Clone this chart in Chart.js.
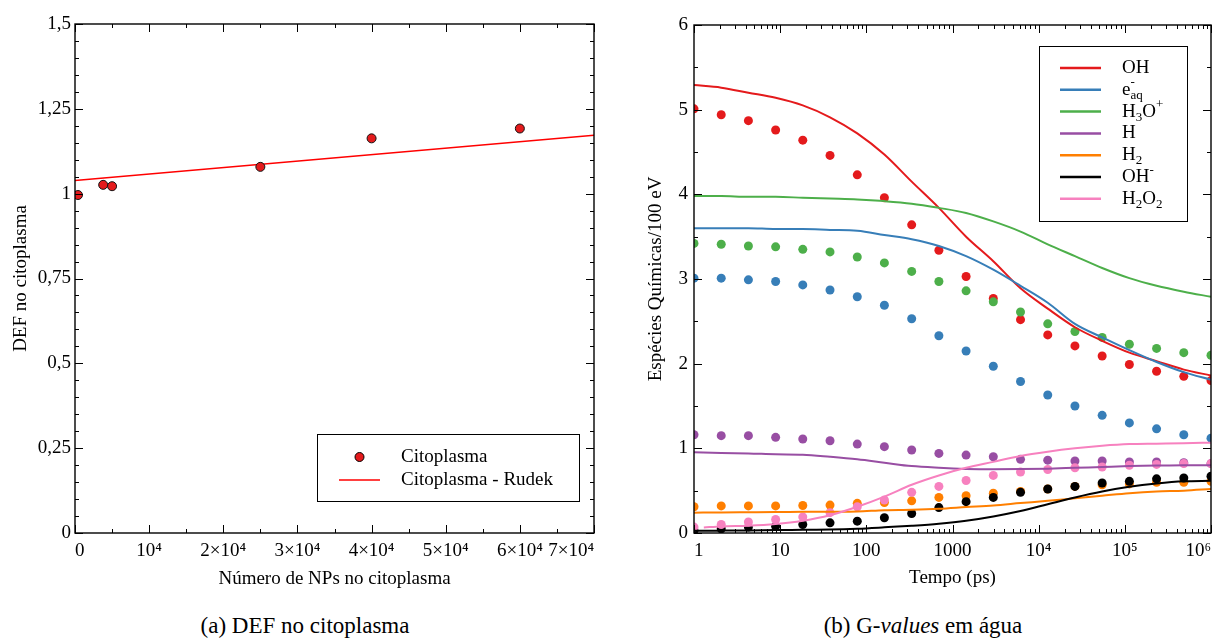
<!DOCTYPE html>
<html lang="pt">
<head>
<meta charset="utf-8">
<title>DEF no citoplasma / G-values em água</title>
<script src="https://cdn.jsdelivr.net/npm/chart.js@4.4.1/dist/chart.umd.min.js"></script>
<style>
  html, body { margin: 0; padding: 0; background: #fff; }
  body { width: 1219px; height: 639px; position: relative; overflow: hidden;
         font-family: 'Liberation Serif', 'DejaVu Serif', serif; color: #000; }
  .panel { position: absolute; top: 0; height: 600px; }
  #panel-a { left: 0; width: 610px; }
  #panel-b { left: 610px; width: 609px; }
  .caption { position: absolute; top: 612px; font-size: 23px; line-height: 28px;
             white-space: nowrap; transform: translateX(-50%); }
</style>
</head>
<body>
<div class="panel" id="panel-a"><canvas id="defChart" width="610" height="600"></canvas></div>
<div class="panel" id="panel-b"><canvas id="gChart" width="609" height="600"></canvas></div>
<div class="caption" style="left:305px">(a) DEF no citoplasma</div>
<div class="caption" style="left:923px">(b) G-<i>values</i> em água</div>

<script>
// ── (a) DEF vs number of NPs ──────────────────────────────────
const npCount   = [400, 3800, 5000, 25000, 40000, 60000];
const defValues = [0.996, 1.026, 1.022, 1.079, 1.163, 1.192];
const rudekX    = [0, 70000];
const rudekY    = [1.039, 1.172];
const defYTickLabels = ['0', '0,25', '0,5', '0,75', '1', '1,25', '1,5'];
const npXTickLabels  = ['0', '10⁴', '2×10⁴', '3×10⁴', '4×10⁴', '5×10⁴', '6×10⁴', '7×10⁴'];

// ── (b) G-values in water ─────────────────────────────────────
const tempoDots = [1, 2.07, 4.28, 8.86, 18.3, 37.9, 78.5, 162, 336, 695,
                   1438, 2976, 6158, 12743, 26367, 54556, 112884, 233572, 483293, 1000000];
const ohDots   = [5.01, 4.94, 4.87, 4.76, 4.64, 4.46, 4.23, 3.96, 3.64, 3.34, 3.03, 2.77, 2.52, 2.34, 2.21, 2.09, 1.99, 1.91, 1.85, 1.80];
const eaqDots  = [3.01, 3.01, 2.99, 2.97, 2.93, 2.87, 2.79, 2.69, 2.53, 2.33, 2.15, 1.97, 1.79, 1.63, 1.50, 1.39, 1.30, 1.23, 1.16, 1.12];
const h3oDots  = [3.42, 3.41, 3.39, 3.38, 3.35, 3.32, 3.26, 3.19, 3.09, 2.97, 2.86, 2.73, 2.61, 2.47, 2.38, 2.31, 2.23, 2.18, 2.13, 2.10];
const hDots    = [1.16, 1.15, 1.15, 1.13, 1.11, 1.09, 1.05, 1.02, 0.98, 0.94, 0.92, 0.90, 0.87, 0.86, 0.85, 0.85, 0.84, 0.84, 0.83, 0.82];
const h2Dots   = [0.31, 0.32, 0.32, 0.32, 0.325, 0.33, 0.35, 0.36, 0.38, 0.42, 0.44, 0.47, 0.49, 0.52, 0.55, 0.57, 0.58, 0.60, 0.60, 0.61];
const ohmDots  = [0.03, 0.05, 0.07, 0.08, 0.10, 0.12, 0.14, 0.18, 0.23, 0.30, 0.37, 0.42, 0.48, 0.52, 0.55, 0.59, 0.61, 0.64, 0.65, 0.67];
const h2o2Dots = [0.07, 0.10, 0.13, 0.16, 0.19, 0.24, 0.31, 0.39, 0.48, 0.55, 0.62, 0.68, 0.72, 0.75, 0.77, 0.78, 0.80, 0.81, 0.82, 0.82];

const tempoLine = [1, 2.07, 4.28, 8.86, 18.3, 37.9, 78.5, 162, 336, 695,
                   1438, 2976, 6158, 12743, 26367, 54556, 112884, 233572, 483293, 1000000];
const h2o2LineStart = 1.3;
const ohLine   = [5.29, 5.26, 5.20, 5.14, 5.05, 4.91, 4.72, 4.47, 4.15, 3.84, 3.50, 3.21, 2.89, 2.65, 2.43, 2.27, 2.13, 2.03, 1.93, 1.86];
const eaqLine  = [3.60, 3.60, 3.60, 3.59, 3.59, 3.58, 3.57, 3.52, 3.47, 3.39, 3.27, 3.11, 2.92, 2.72, 2.47, 2.31, 2.16, 2.02, 1.90, 1.81];
const h3oLine  = [3.98, 3.98, 3.97, 3.97, 3.96, 3.95, 3.94, 3.92, 3.89, 3.84, 3.78, 3.68, 3.56, 3.41, 3.27, 3.13, 3.01, 2.92, 2.85, 2.79];
const hLine    = [0.955, 0.945, 0.94, 0.93, 0.925, 0.90, 0.87, 0.83, 0.79, 0.77, 0.757, 0.753, 0.755, 0.76, 0.77, 0.78, 0.79, 0.796, 0.80, 0.80];
const h2Line   = [0.24, 0.243, 0.245, 0.247, 0.25, 0.252, 0.255, 0.27, 0.275, 0.286, 0.306, 0.325, 0.353, 0.38, 0.41, 0.44, 0.47, 0.49, 0.50, 0.52];
const ohmLine  = [0.027, 0.028, 0.03, 0.035, 0.037, 0.04, 0.05, 0.067, 0.086, 0.11, 0.145, 0.196, 0.26, 0.34, 0.42, 0.49, 0.545, 0.584, 0.61, 0.616];
const h2o2Line = [0.065, 0.078, 0.086, 0.106, 0.145, 0.21, 0.31, 0.43, 0.57, 0.68, 0.77, 0.84, 0.91, 0.96, 1.00, 1.03, 1.05, 1.055, 1.06, 1.067];

const speciesNames  = ['OH', 'e^{-}_{aq}', 'H_{3}O^{+}', 'H', 'H_{2}', 'OH^{-}', 'H_{2}O_{2}'];
const speciesColors = ['#e41a1c', '#377eb8', '#4daf4a', '#984ea3', '#ff7f00', '#000000', '#f781bf'];
const tempoTicks      = [1, 10, 100, 1000, 1e4, 1e5, 1e6];
const tempoTickLabels = ['1', '10', '100', '1000', '10⁴', '10⁵', '10⁶'];

const FONT = "'Liberation Serif', 'DejaVu Serif', serif";
Chart.defaults.font.family = FONT;
Chart.defaults.font.size = 19;
Chart.defaults.color = '#000';

// text with ^{sup} and _{sub}; a sup directly followed by a sub is stacked
function parseRich(s) {
  const out = [];
  const re = /([\^_])\{([^}]*)\}|([^\^_]+)/g;
  let m;
  while ((m = re.exec(s))) {
    if (m[3]) out.push({ t: m[3], k: 'n' });
    else out.push({ t: m[2], k: m[1] === '^' ? 'sup' : 'sub' });
  }
  return out;
}

function drawRich(ctx, s, x, y, size) {
  const segs = parseRich(s);
  const small = Math.round(size * 0.66);
  ctx.textBaseline = 'middle';
  ctx.textAlign = 'left';
  ctx.fillStyle = '#000';
  for (let i = 0; i < segs.length; i++) {
    const sg = segs[i];
    if (sg.k === 'n') {
      ctx.font = size + 'px ' + FONT;
      ctx.fillText(sg.t, x, y);
      x += ctx.measureText(sg.t).width;
      continue;
    }
    ctx.font = small + 'px ' + FONT;
    const supDy = -size * 0.36, subDy = size * 0.3;
    ctx.fillText(sg.t, x, y + (sg.k === 'sup' ? supDy : subDy));
    let w = ctx.measureText(sg.t).width;
    const nx = segs[i + 1];
    if (sg.k === 'sup' && nx && nx.k === 'sub') {
      ctx.fillText(nx.t, x, y + subDy);
      w = Math.max(w, ctx.measureText(nx.t).width);
      i++;
    }
    x += w;
  }
}

// closed frame with inward major/minor ticks on all four sides
const frameTicks = {
  id: 'frameTicks',
  afterDatasetsDraw(chart, args, opts) {
    const { ctx, chartArea: a, scales: { x, y } } = chart;
    const major = 8, minor = 4;
    ctx.save();
    ctx.strokeStyle = '#000';
    ctx.lineWidth = 1;
    ctx.beginPath();
    const tx = (v, len) => {
      const p = Math.round(x.getPixelForValue(v)) + 0.5;
      ctx.moveTo(p, a.bottom); ctx.lineTo(p, a.bottom - len);
      ctx.moveTo(p, a.top);    ctx.lineTo(p, a.top + len);
    };
    const ty = (v, len) => {
      const p = Math.round(y.getPixelForValue(v)) + 0.5;
      ctx.moveTo(a.left, p);  ctx.lineTo(a.left + len, p);
      ctx.moveTo(a.right, p); ctx.lineTo(a.right - len, p);
    };
    x.ticks.forEach(t => tx(t.value, major));
    opts.xMinor.forEach(v => tx(v, minor));
    y.ticks.forEach(t => ty(t.value, major));
    opts.yMinor.forEach(v => ty(v, minor));
    ctx.stroke();
    ctx.lineWidth = 1.4;
    ctx.strokeRect(a.left, a.top, a.right - a.left, a.bottom - a.top);
    ctx.restore();
  }
};

// boxed legend drawn inside the plot
const boxLegend = {
  id: 'boxLegend',
  afterDraw(chart, args, o) {
    const ctx = chart.ctx;
    ctx.save();
    ctx.fillStyle = '#fff';
    ctx.fillRect(o.left, o.top, o.width, o.height);
    ctx.strokeStyle = '#000';
    ctx.lineWidth = 1;
    ctx.strokeRect(o.left + 0.5, o.top + 0.5, o.width, o.height);
    o.items.forEach((it, i) => {
      const yy = o.firstRow + i * o.rowGap;
      if (it.kind === 'point') {
        ctx.beginPath();
        ctx.arc((o.sampleFrom + o.sampleTo) / 2, yy, 4.5, 0, Math.PI * 2);
        ctx.fillStyle = it.color;
        ctx.fill();
        ctx.strokeStyle = '#000';
        ctx.lineWidth = 1;
        ctx.stroke();
      } else {
        ctx.beginPath();
        ctx.moveTo(o.sampleFrom, yy);
        ctx.lineTo(o.sampleTo, yy);
        ctx.strokeStyle = it.color;
        ctx.lineWidth = it.width || 2.5;
        ctx.stroke();
      }
      drawRich(ctx, it.label, o.textX, yy, 19);
    });
    ctx.restore();
  }
};

const range = (from, to, step) => {
  const out = [];
  for (let v = from; v <= to + 1e-9; v += step) out.push(+v.toFixed(6));
  return out;
};

// ── chart (a) ──
new Chart(document.getElementById('defChart'), {
  type: 'scatter',
  data: {
    datasets: [
      {
        label: 'Citoplasma',
        data: npCount.map((n, i) => ({ x: n, y: defValues[i] })),
        pointRadius: 4.5,
        pointBackgroundColor: '#e41a1c',
        pointBorderColor: '#111',
        pointBorderWidth: 1,
        order: 0
      },
      {
        type: 'line',
        label: 'Citoplasma - Rudek',
        data: rudekX.map((n, i) => ({ x: n, y: rudekY[i] })),
        borderColor: '#ff0000',
        borderWidth: 1.6,
        pointRadius: 0,
        order: 1
      }
    ]
  },
  options: {
    responsive: false,
    animation: false,
    devicePixelRatio: 1,
    events: [],
    layout: { padding: { top: 24, right: 16, left: 0, bottom: 0 } },
    scales: {
      x: {
        type: 'linear', min: 0, max: 70000,
        grid: { display: false, drawTicks: false },
        border: { display: false },
        afterFit: s => { s.height = 67; },
        ticks: {
          stepSize: 10000, autoSkip: false, maxRotation: 0, padding: 7, align: 'inner',
          callback: (v, i) => npXTickLabels[i]
        },
        title: { display: true, text: 'Número de NPs no citoplasma', padding: { top: 0, bottom: 10 } }
      },
      y: {
        min: 0, max: 1.5,
        grid: { display: false, drawTicks: false },
        border: { display: false },
        afterFit: s => { s.width = 75; },
        ticks: { stepSize: 0.25, padding: 4, callback: (v, i) => defYTickLabels[i] },
        title: { display: true, text: 'DEF no citoplasma', padding: { top: 10, bottom: 0 } }
      }
    },
    plugins: {
      legend: { display: false },
      tooltip: { enabled: false },
      frameTicks: { xMinor: range(5000, 65000, 10000), yMinor: range(0.05, 1.45, 0.05).filter(v => Math.abs(v / 0.25 - Math.round(v / 0.25)) > 1e-6) },
      boxLegend: {
        left: 317, top: 434, width: 262, height: 67,
        firstRow: 457, rowGap: 23, sampleFrom: 339, sampleTo: 380, textX: 401,
        items: [
          { kind: 'point', color: '#e41a1c', label: 'Citoplasma' },
          { kind: 'line', color: '#ff0000', width: 1.6, label: 'Citoplasma - Rudek' }
        ]
      }
    }
  },
  plugins: [frameTicks, boxLegend]
});

// ── chart (b) ──
const lineSets = [ohLine, eaqLine, h3oLine, hLine, h2Line, ohmLine, h2o2Line];
const dotSets  = [ohDots, eaqDots, h3oDots, hDots, h2Dots, ohmDots, h2o2Dots];

const gDatasets = [];
dotSets.forEach((vals, i) => {
  gDatasets.push({
    type: 'scatter',
    label: speciesNames[i] + ' (pontos)',
    data: vals.map((v, j) => ({ x: tempoDots[j], y: v })),
    pointRadius: 4.5,
    pointBorderWidth: 0,
    pointBackgroundColor: speciesColors[i],
    clip: 0,
    order: 30 - i
  });
});
lineSets.forEach((vals, i) => {
  const ts = i === 6 ? [h2o2LineStart, ...tempoLine.slice(1)] : tempoLine;
  gDatasets.push({
    type: 'line',
    label: speciesNames[i],
    data: vals.map((v, j) => ({ x: ts[j], y: v })),
    borderColor: speciesColors[i],
    borderWidth: 2,
    pointRadius: 0,
    cubicInterpolationMode: 'monotone',
    order: 10 - i
  });
});

const logMinor = [];
for (let d = 1; d < 1e6; d *= 10) for (let m = 2; m <= 9; m++) logMinor.push(d * m);

new Chart(document.getElementById('gChart'), {
  type: 'scatter',
  data: { datasets: gDatasets },
  options: {
    responsive: false,
    animation: false,
    devicePixelRatio: 1,
    events: [],
    layout: { padding: { top: 25, right: 8, left: 0, bottom: 0 } },
    scales: {
      x: {
        type: 'logarithmic', min: 1, max: 1e6,
        grid: { display: false, drawTicks: false },
        border: { display: false },
        afterFit: s => { s.height = 67; },
        afterBuildTicks: s => { s.ticks = tempoTicks.map(v => ({ value: v })); },
        ticks: {
          autoSkip: false, maxRotation: 0, padding: 7, align: 'inner',
          callback: (v, i) => tempoTickLabels[i]
        },
        title: { display: true, text: 'Tempo (ps)', padding: { top: 0, bottom: 11 } }
      },
      y: {
        min: 0, max: 6,
        grid: { display: false, drawTicks: false },
        border: { display: false },
        afterFit: s => { s.width = 84; },
        ticks: { stepSize: 1, padding: 6 },
        title: { display: true, text: 'Espécies Químicas/100 eV', padding: { top: 35, bottom: 0 } }
      }
    },
    plugins: {
      legend: { display: false },
      tooltip: { enabled: false },
      frameTicks: { xMinor: logMinor, yMinor: range(0.5, 5.5, 1) },
      boxLegend: {
        left: 429, top: 46, width: 148, height: 175,
        firstRow: 68, rowGap: 21.8, sampleFrom: 450, sampleTo: 491, textX: 512,
        items: speciesNames.map((n, i) => ({ kind: 'line', color: speciesColors[i], label: n }))
      }
    }
  },
  plugins: [frameTicks, boxLegend]
});
</script>
</body>
</html>
